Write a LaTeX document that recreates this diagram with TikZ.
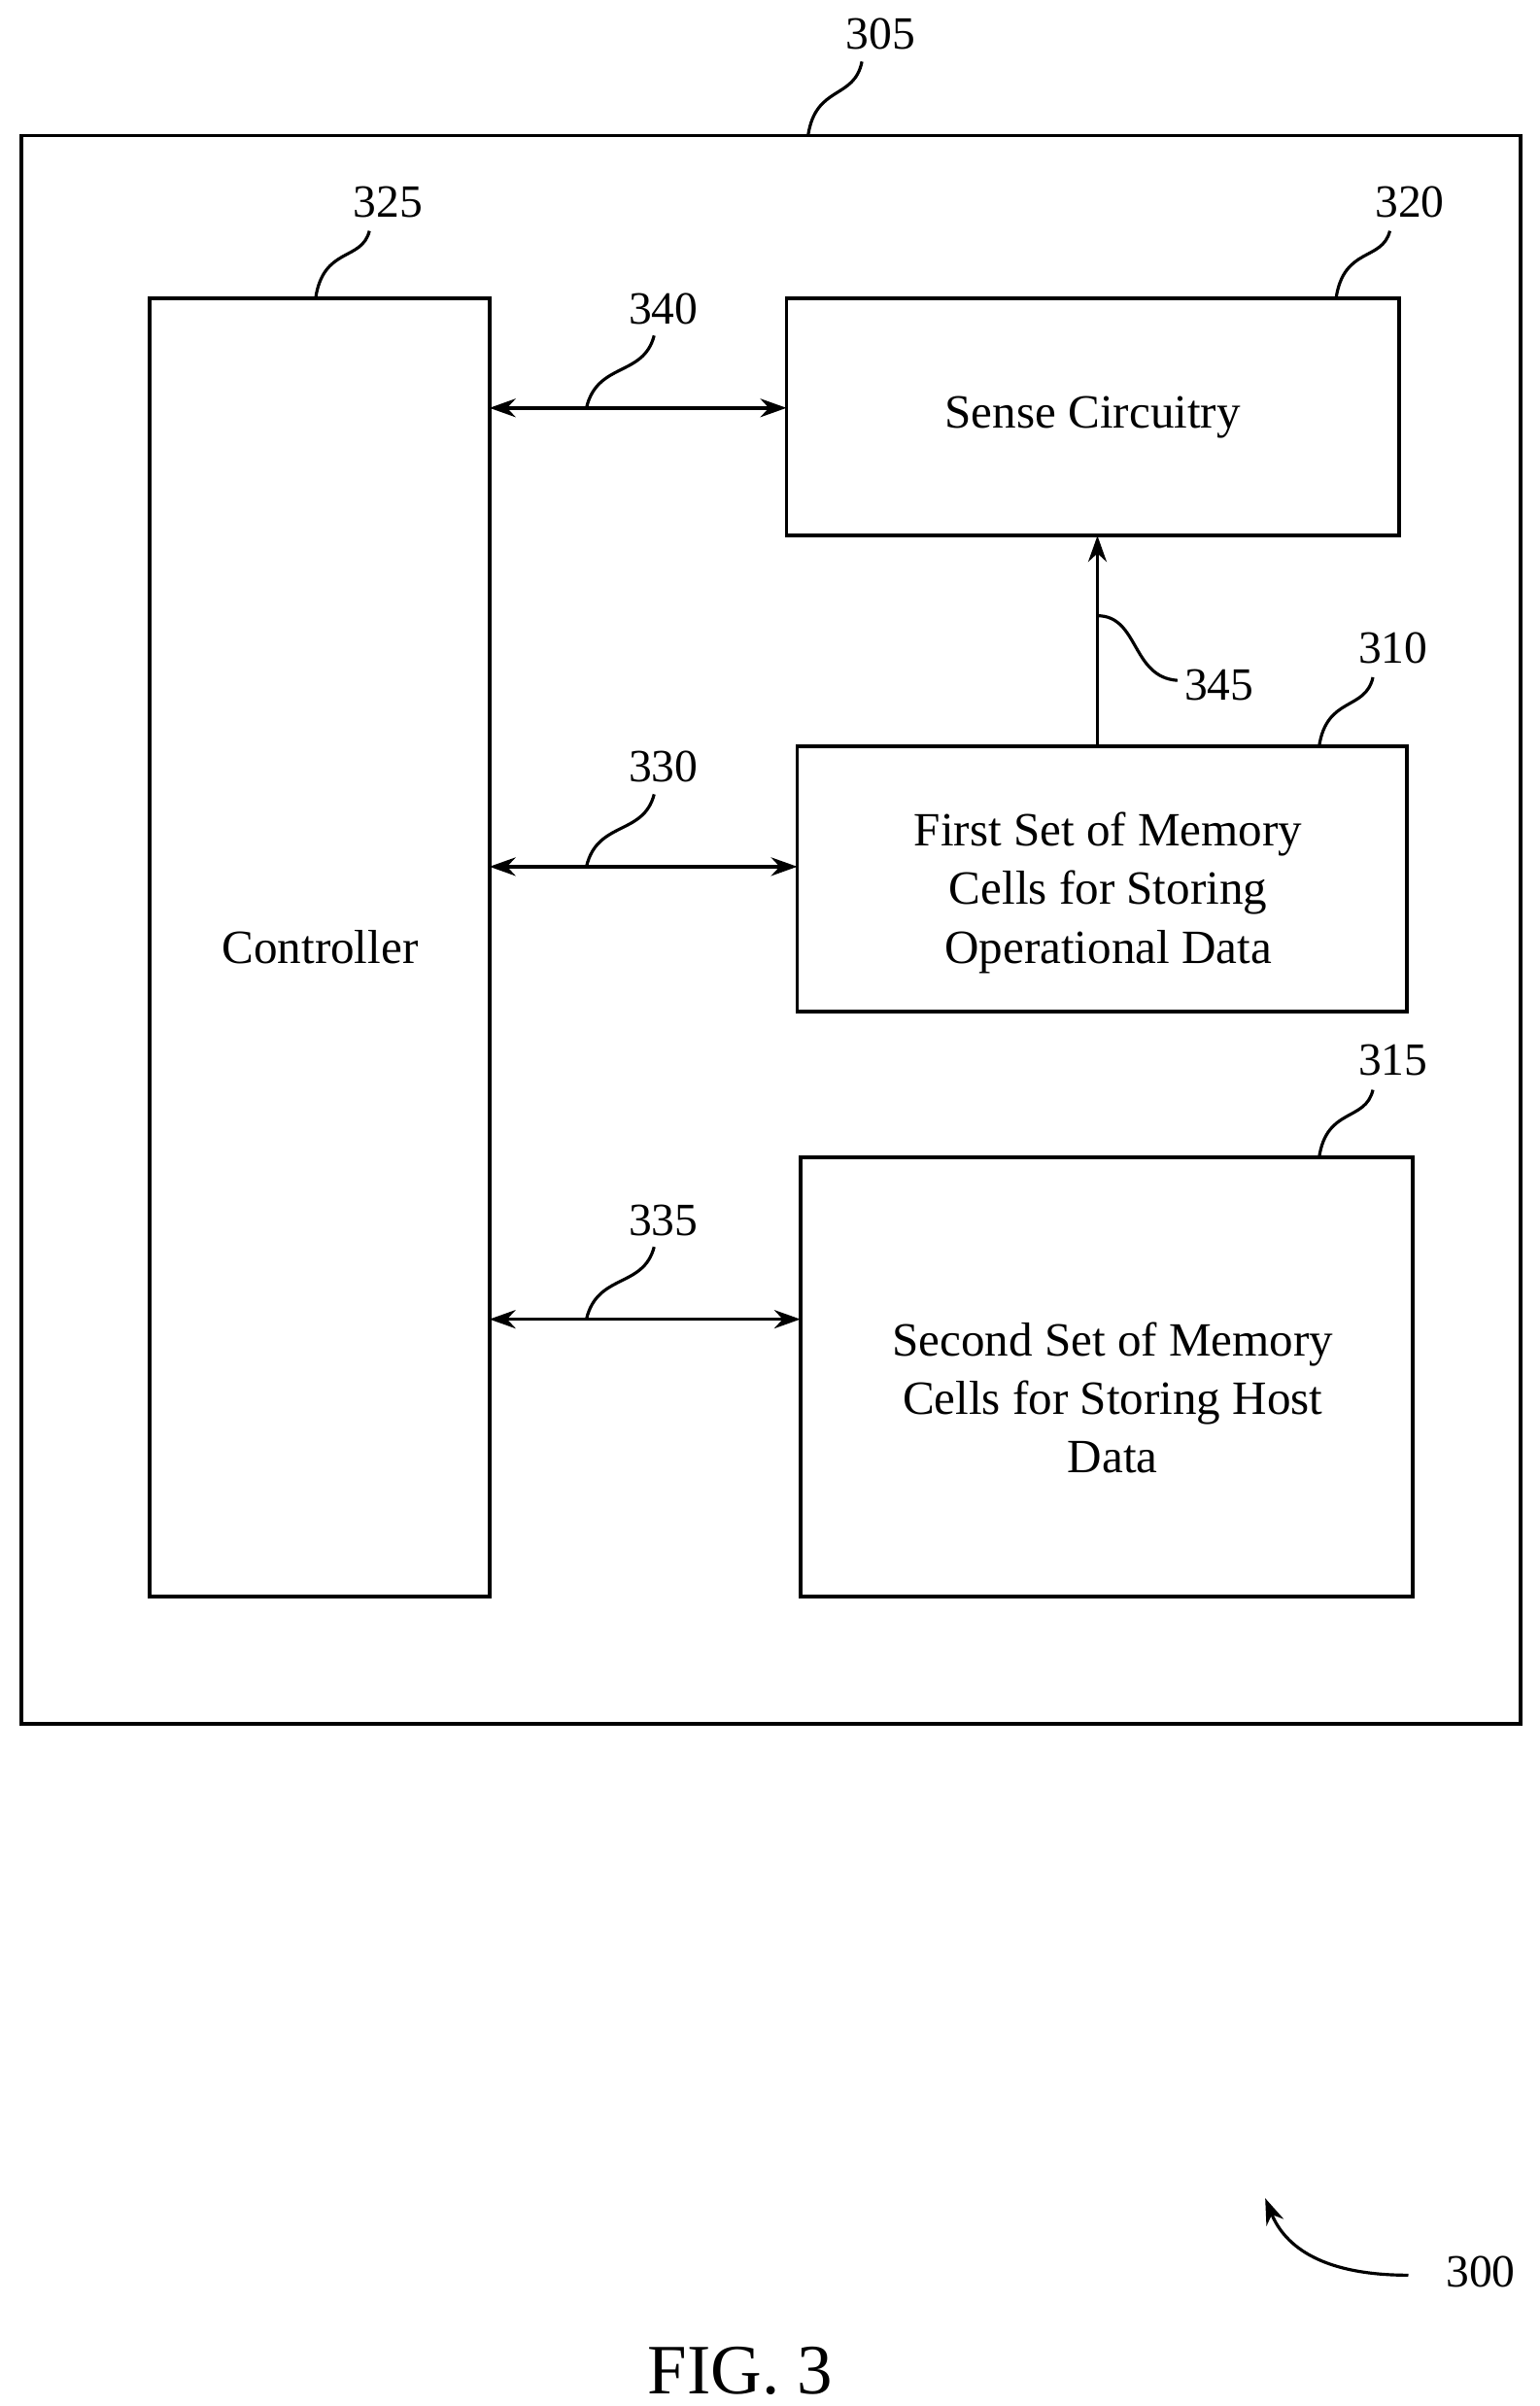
\documentclass[tikz,border=0pt]{standalone}
\usepackage{fontspec}
\setmainfont{Liberation Serif}
\usetikzlibrary{positioning, arrows.meta}
\tikzstyle{arrow} = [line width=2.2pt,{Stealth[length=17pt,width=12pt]}-{Stealth[length=17pt,width=12pt]}]
\tikzstyle{lead} = [line width=2pt]

\begin{document}
\begin{tikzpicture}[x=1pt, y=-1pt,
    blk/.style={draw, line width=2.4pt, inner sep=0pt},
    txt/.style={font=\fontsize{31}{38}\selectfont, align=center},
    num/.style={font=\fontsize{30}{32}\selectfont}
  ]
  \useasboundingbox (0,0) rectangle (1000,1563);

  % boxes
  \draw[blk] (14,88) rectangle (988,1120);
  \draw[blk] (97,194) rectangle (318,1037);
  \draw[blk] (511,194) rectangle (909,348);
  \draw[blk] (518,485) rectangle (914,657);
  \draw[blk] (520,752) rectangle (918,1037);

  \node[txt] (ctl) at (208,615) {Controller};
  \node[txt] (sense) at (710,271) {Sense Circuitry};
  \node[txt] (first) at (720,580) {First Set of Memory\\Cells for Storing\\Operational Data};
  \node[txt] (second) at (723,908) {Second Set of Memory\\Cells for Storing Host\\Data};

  % buses
  \coordinate (c1) at (318,265); \coordinate (s1) at (511,265);
  \coordinate (c2) at (318,563); \coordinate (f2) at (518,563);
  \coordinate (c3) at (318,857); \coordinate (s3) at (520,857);
  \draw[arrow] (c1) -- (s1);
  \draw[arrow] (c2) -- (f2);
  \draw[arrow] (c3) -- (s3);
  \coordinate (f0) at (713,485); \coordinate (s0) at (713,348);
  \draw[line width=2.2pt,-{Stealth[length=17pt,width=12pt]}] (f0) -- (s0);

  % reference numbers
  \node[num] (n305) at (572,22) {305};
  \node[num] (n325) at (252,131) {325};
  \node[num] (n320) at (916,131) {320};
  \node[num] (n310) at (905,421) {310};
  \node[num] (n315) at (905,689) {315};
  \node[num] (n340) at (431,201) {340};
  \node[num] (n330) at (431,498) {330};
  \node[num] (n335) at (431,793) {335};
  \node[num] (n345) at (792,445) {345};
  \node[num] (n300) at (962,1476) {300};
  \node[font=\fontsize{46}{50}\selectfont] (fig) at (481,1540) {FIG. 3};

  % leaders
  \draw[lead] (525,88) .. controls (530,55) and (555,65) .. (560,40);
  \draw[lead] (205,194) .. controls (210,160) and (235,170) .. (240,150);
  \draw[lead] (868,194) .. controls (873,160) and (898,170) .. (903,150);
  \draw[lead] (857,485) .. controls (862,452) and (887,462) .. (892,440);
  \draw[lead] (857,752) .. controls (862,719) and (887,729) .. (892,708);
  \draw[lead] (381,265) .. controls (388,235) and (418,245) .. (425,218);
  \draw[lead] (381,563) .. controls (388,533) and (418,543) .. (425,516);
  \draw[lead] (381,857) .. controls (388,827) and (418,837) .. (425,810);
  \draw[lead] (713,400) .. controls (740,400) and (735,440) .. (765,442);
  \draw[line width=2pt,-{Stealth[length=17pt,width=12pt]}] (915,1478) .. controls (860,1478) and (835,1460) .. (822,1428);
\end{tikzpicture}
\end{document}
